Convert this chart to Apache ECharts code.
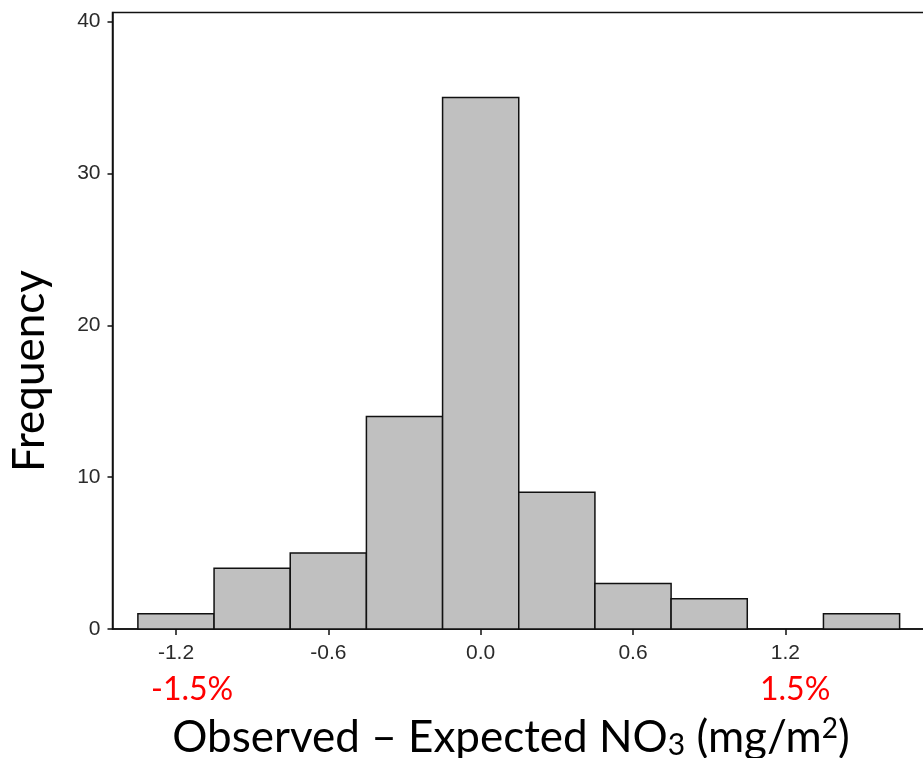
<!DOCTYPE html>
<html>
<head>
<meta charset="utf-8">
<script src="https://cdn.jsdelivr.net/npm/echarts@6/dist/echarts.min.js"></script>
<style>
html,body{margin:0;padding:0;background:#fff;}
#chart{width:923px;height:758px;}
</style>
</head>
<body>
<div id="chart"></div>
<script>
// Histogram bin edges and counts
var binEdges = [-1.35, -1.05, -0.75, -0.45, -0.15, 0.15, 0.45, 0.75, 1.05, 1.35, 1.65];
var counts = [1, 4, 5, 14, 35, 9, 3, 2, 0, 1];
var xTicks = [-1.2, -0.6, 0.0, 0.6, 1.2];
var yTicks = [0, 10, 20, 30, 40];
var lowLabel = '-1.5%';
var highLabel = '1.5%';
var yTitle = 'Frequency';

var bins = counts.map(function (c, i) { return [binEdges[i], binEdges[i + 1], c]; });

var chart = echarts.init(document.getElementById('chart'), null, {renderer: 'canvas'});
var axisColor = '#111';
var labelFont = '"Liberation Sans", Arial, sans-serif';
var textFont = 'Lato, "Open Sans", sans-serif';

chart.setOption({
  animation: false,
  backgroundColor: '#fff',
  grid: {
    left: 112.5, top: 12.5, width: 825.2, bottom: 129,
    outerBoundsMode: 'none', containLabel: false,
    show: true, borderColor: axisColor, borderWidth: 1.5, backgroundColor: 'transparent'
  },
  xAxis: {
    type: 'value', min: -1.45, max: 1.8,
    splitLine: {show: false},
    axisLine: {show: true, onZero: false, lineStyle: {color: axisColor, width: 1.5}},
    axisTick: {show: true, length: 6, customValues: xTicks, lineStyle: {color: axisColor, width: 1.5}},
    axisLabel: {
      customValues: xTicks, margin: 14, color: '#2a2a2a', fontSize: 21, fontFamily: labelFont,
      formatter: function (v) { return Number(v).toFixed(1); }
    }
  },
  yAxis: {
    type: 'value', min: 0, max: 40.6,
    splitLine: {show: false},
    axisLine: {show: true, onZero: false, lineStyle: {color: axisColor, width: 1.5}},
    axisTick: {show: true, length: 5, customValues: yTicks, lineStyle: {color: axisColor, width: 1.5}},
    axisLabel: {customValues: yTicks, margin: 12, color: '#2a2a2a', fontSize: 21, fontFamily: labelFont}
  },
  series: [{
    type: 'custom',
    data: bins,
    encode: {x: [0, 1], y: 2},
    renderItem: function (params, api) {
      var c = api.value(2);
      if (!c) return null;
      var p0 = api.coord([api.value(0), 0]);
      var p1 = api.coord([api.value(1), c]);
      return {
        type: 'rect',
        shape: {x: p0[0], y: p1[1], width: p1[0] - p0[0], height: p0[1] - p1[1]},
        style: {fill: '#c0c0c0', stroke: '#111', lineWidth: 1.5}
      };
    }
  }],
  graphic: [
    {type: 'text', left: 151, top: 674, style: {text: lowLabel, fill: '#ff0000', font: '32px ' + textFont}},
    {type: 'text', left: 760, top: 674, style: {text: highLabel, fill: '#ff0000', font: '32px ' + textFont}},
    {type: 'text', x: 30, y: 371, rotation: Math.PI / 2,
      style: {text: yTitle, fill: '#000', font: '44px ' + textFont, align: 'center', verticalAlign: 'middle'}},
    {type: 'text', x: 511, y: 700,
      style: {
        text: '{a|Observed – Expected NO}{sub|3}{a| (mg/m}{sup|2}{a|)}',
        align: 'center', verticalAlign: 'top',
        rich: {
          a: {fontSize: 44, fontFamily: textFont, fill: '#000', lineHeight: 60, verticalAlign: 'bottom'},
          sub: {fontSize: 30, fontFamily: textFont, fill: '#000', lineHeight: 26, verticalAlign: 'bottom'},
          sup: {fontSize: 28, fontFamily: textFont, fill: '#000', verticalAlign: 'top', padding: [15, 0, 0, 0]}
        }
      }}
  ]
});
</script>
</body>
</html>
